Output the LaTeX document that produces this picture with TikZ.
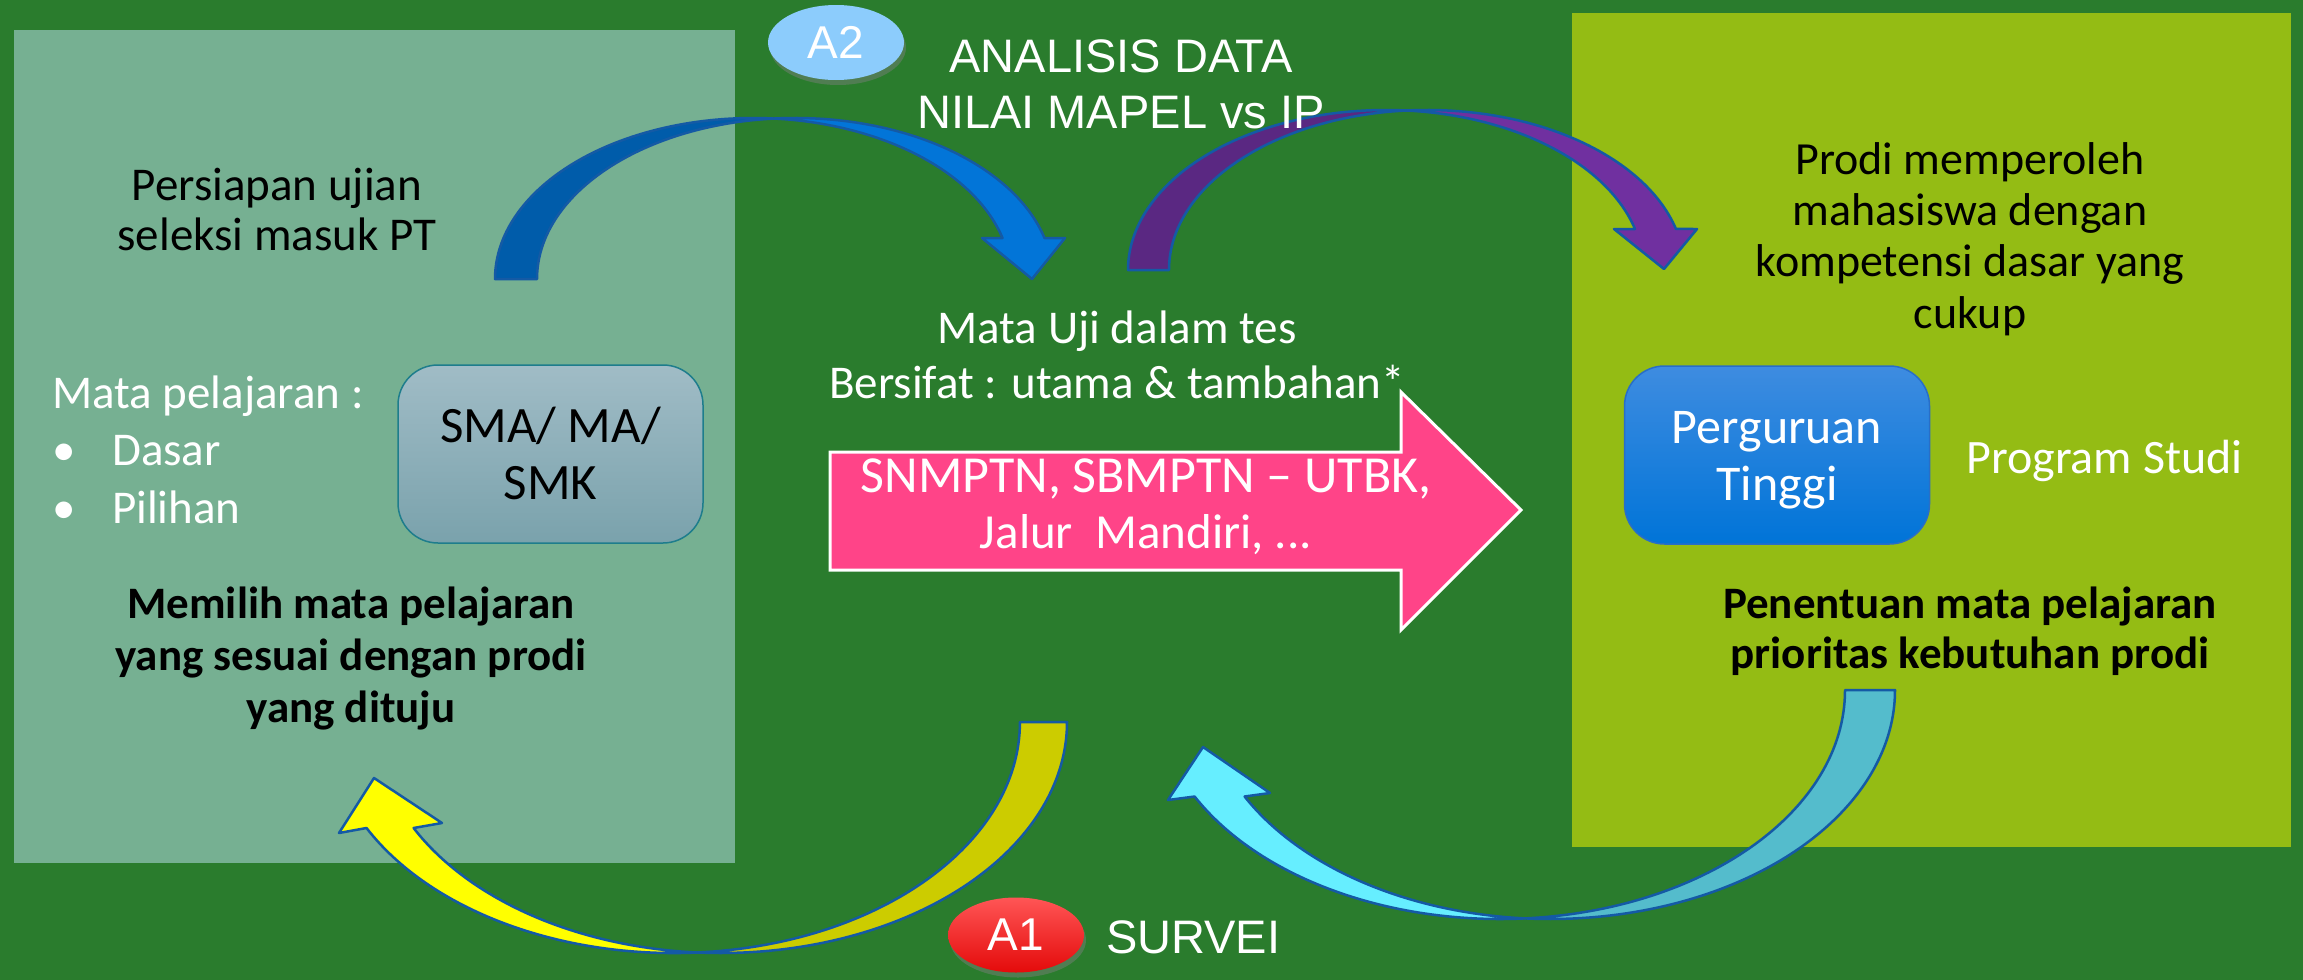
\documentclass[tikz,border=0pt]{standalone}
\usepackage{fontspec}
\setmainfont{Carlito}
\newfontfamily\arialfont{Liberation Sans}
\usetikzlibrary{shapes.geometric,shadows}

\definecolor{bggreen}{RGB}{42,124,45}
\definecolor{leftpanel}{RGB}{118,176,146}
\definecolor{rightpanel}{RGB}{148,188,20}
\definecolor{ribbonline}{RGB}{20,90,165}
\definecolor{bluefront}{RGB}{2,117,216}
\definecolor{blueback}{RGB}{0,92,170}
\definecolor{purplefront}{RGB}{112,48,160}
\definecolor{purpleback}{RGB}{90,40,130}
\definecolor{yellowfront}{RGB}{255,255,0}
\definecolor{yellowback}{RGB}{204,204,0}
\definecolor{cyanfront}{RGB}{102,238,255}
\definecolor{cyanback}{RGB}{84,188,204}
\definecolor{pinkarrow}{RGB}{255,68,136}
\definecolor{smatop}{RGB}{160,188,198}
\definecolor{smabottom}{RGB}{122,162,172}
\definecolor{smaline}{RGB}{30,125,140}
\definecolor{pttop}{RGB}{62,140,224}
\definecolor{ptbottom}{RGB}{0,116,216}
\definecolor{ptline}{RGB}{40,110,200}
\definecolor{a2blue}{RGB}{140,204,252}
\definecolor{a1top}{RGB}{255,85,85}
\definecolor{a1bottom}{RGB}{228,10,10}

\begin{document}
\begin{tikzpicture}[x=1pt,y=-1pt,
  ribbon/.style={draw=ribbonline,line width=2.5pt,line join=round},
  txt/.style={inner sep=0pt,align=center,anchor=base},
  plain/.style={txt,font=\fontsize{47}{55}\selectfont},
  heavy/.style={txt,font=\fontsize{45}{52}\selectfont\bfseries},
  capsfont/.style={txt,text=white,font=\arialfont\fontsize{47}{56}\selectfont},
  badge/.style={ellipse,minimum width=136pt,minimum height=75pt,inner sep=0pt,text=white,
    font=\arialfont\fontsize{46}{50}\selectfont,
    drop shadow={shadow xshift=2pt,shadow yshift=-5pt,opacity=.45}},
  schoolbox/.style={rounded corners=40pt,minimum width=305pt,minimum height=178pt,
    inner sep=0pt,line width=1.5pt}]
\useasboundingbox[fill=bggreen] (0,0) rectangle (2303,980);
% panels
\fill[leftpanel] (14,30) rectangle (735,863);
\fill[rightpanel] (1572,13) rectangle (2291,847);
% curved arrows
\draw[ribbon,fill=blueback] (495,279) arc[start angle=180,end angle=274.67,x radius=258,y radius=161]
  arc[start angle=265.33,end angle=180,x radius=258,y radius=161] -- cycle;
\draw[ribbon,fill=bluefront] (774,118.53) arc[start angle=265.33,end angle=345.25,x radius=258,y radius=161]
  -- (1065,238) -- (1032,279) -- (982,238) -- (1002.5,238)
  arc[start angle=345.25,end angle=274.67,x radius=258,y radius=161] -- cycle;
\draw[ribbon,fill=purpleback] (1128,270) arc[start angle=180,end angle=274.56,x radius=257.8,y radius=160]
  arc[start angle=265.44,end angle=180,x radius=257.8,y radius=160] -- cycle;
\draw[ribbon,fill=purplefront] (1406.3,110.5) arc[start angle=265.44,end angle=345.15,x radius=257.8,y radius=160]
  -- (1697,229) -- (1664,269) -- (1614,229) -- (1635,229)
  arc[start angle=345.15,end angle=274.56,x radius=257.8,y radius=160] -- cycle;
\draw[ribbon,fill=yellowback] (1067,722) arc[start angle=0,end angle=93.9,x radius=346,y radius=231]
  arc[start angle=86.1,end angle=0,x radius=346,y radius=231] -- cycle;
\draw[ribbon,fill=yellowfront] (697.5,952.5) arc[start angle=86.1,end angle=152.7,x radius=346,y radius=231]
  -- (339,833) -- (374,778) -- (442,823) -- (413.6,828)
  arc[start angle=152.7,end angle=93.9,x radius=346,y radius=231] -- cycle;
\draw[ribbon,fill=cyanback] (1895,690) arc[start angle=0,end angle=94.155,x radius=345,y radius=229]
  arc[start angle=85.845,end angle=0,x radius=345,y radius=229] -- cycle;
\draw[ribbon,fill=cyanfront] (1525,918.4) arc[start angle=85.845,end angle=152.28,x radius=345,y radius=229]
  -- (1168,800) -- (1203,747) -- (1270,793) -- (1244.6,796.5)
  arc[start angle=152.28,end angle=94.155,x radius=345,y radius=229] -- cycle;
% block arrow
\draw[white,line width=3pt,fill=pinkarrow] (830,452) -- (1401,452) -- (1401,392) -- (1521,510)
  -- (1401,630) -- (1401,570) -- (830,570) -- cycle;
% school side
\node[plain,font=\fontsize{47}{50}\selectfont] (persiapan) at (277,250) {Persiapan ujian\\seleksi masuk PT};
\node[plain,text=white,align=left,anchor=base west,font=\fontsize{47}{57.5}\selectfont] (matapel) at (52,523)
  {Mata pelajaran :\\\makebox[60pt][l]{\textbullet}Dasar\\\makebox[60pt][l]{\textbullet}Pilihan};
\node[schoolbox,draw=smaline,top color=smatop,bottom color=smabottom] (sma) at (550.5,454) {};
\node[txt,font=\fontsize{51}{57}\selectfont] (smatext) at (550.5,499) {SMA/ MA/\\SMK};
\node[heavy] (memilih) at (351,722) {Memilih mata pelajaran\\yang sesuai dengan prodi\\yang dituju};
% middle
\node[badge,fill=a2blue] (a2) at (836,42.5) {A2};
\node[capsfont] (analisis) at (1121,128) {ANALISIS DATA\\NILAI MAPEL vs IP};
\node[plain,text=white] (matauji) at (1117,398) {Mata Uji dalam tes\\Bersifat : utama \& tambahan*};
\node[plain,text=white,font=\fontsize{49}{56}\selectfont] (jalur) at (1146,548)
  {{\fontsize{52}{56}\selectfont SNMPTN, SBMPTN -- UTBK,}\\Jalur~~Mandiri, ...};
\node[badge,top color=a1top,bottom color=a1bottom] (a1) at (1016,935) {A1};
\node[capsfont,anchor=base west] (survei) at (1106,953) {SURVEI};
% university side
\node[plain,font=\fontsize{46}{51.3}\selectfont] (prodi) at (1970,328) {Prodi memperoleh\\mahasiswa dengan\\kompetensi dasar yang\\cukup};
\node[schoolbox,draw=ptline,top color=pttop,bottom color=ptbottom] (pt) at (1777,455) {};
\node[txt,text=white,font=\fontsize{50}{57}\selectfont] (pttext) at (1777,500) {Perguruan\\Tinggi};
\node[plain,text=white,font=\fontsize{48}{56}\selectfont] (prostudi) at (2104.5,473) {Program Studi};
\node[heavy,font=\fontsize{45}{50}\selectfont\bfseries] (penentuan) at (1970,668) {Penentuan mata pelajaran\\prioritas kebutuhan prodi};
\end{tikzpicture}
\end{document}
